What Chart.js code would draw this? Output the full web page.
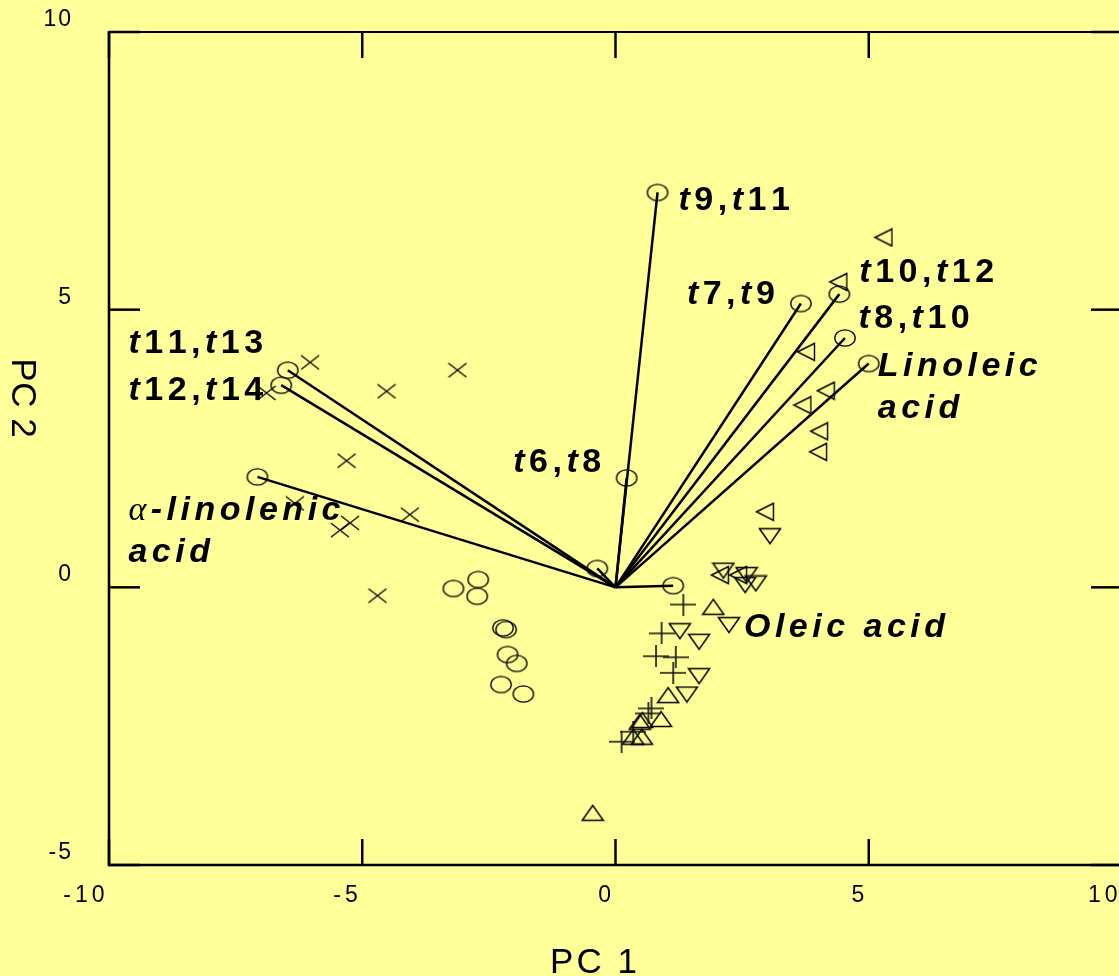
<!DOCTYPE html>
<html>
<head>
<meta charset="utf-8">
<script src="https://cdn.jsdelivr.net/npm/chart.js@4.4.1/dist/chart.umd.min.js"></script>
<style>
  html, body { margin: 0; padding: 0; background: #ffff99; overflow: hidden; width: 1119px; height: 976px; }
  #wrap { position: relative; width: 1140px; height: 976px; }
</style>
</head>
<body>
<div id="wrap"><canvas id="biplot"></canvas></div>
<script>
// PCA biplot of fatty acid profiles: loadings as vectors from the origin, scores as marker groups.

const xTicks = [-10, -5, 0, 5, 10];
const yTicks = [-5, 0, 5, 10];
const xTitle = 'PC 1';
const yTitle = 'PC 2';

// Loading vectors (end points)
const vectorNames = ['t9,t11', 't7,t9', 't10,t12', 't8,t10', 'Linoleic\nacid', 't11,t13', 't12,t14', 'α-linolenic\nacid', 't6,t8', 'Oleic acid', ''];
const vectorX = [0.83, 3.66, 4.42, 4.53, 5.00, -6.47, -6.60, -7.07, 0.22, 1.14, -0.36];
const vectorY = [7.11, 5.11, 5.28, 4.49, 4.03, 3.91, 3.64, 1.99, 1.97, 0.03, 0.34];

// Score groups
const circleX = [-3.20, -2.71, -2.73, -2.22, -2.16, -2.13, -1.95, -2.26, -1.82];
const circleY = [-0.02, 0.14, -0.16, -0.73, -0.76, -1.21, -1.37, -1.75, -1.92];

const crossX = [-6.03, -3.12, -4.52, -6.89, -5.31, -4.06, -6.33, -5.24, -5.44, -4.70];
const crossY = [4.05, 3.91, 3.53, 3.50, 2.28, 1.31, 1.51, 1.16, 1.03, -0.15];

const plusX = [1.34, 0.91, 0.80, 1.19, 1.14, 0.71, 0.65, 0.35, 0.12];
const plusY = [-0.31, -0.83, -1.24, -1.26, -1.54, -2.18, -2.27, -2.60, -2.78];

const upX = [1.93, 1.04, 0.90, 0.53, 0.48, 0.52, 0.35, -0.45];
const upY = [-0.35, -1.94, -2.37, -2.39, -2.42, -2.69, -2.69, -4.06];

const downX = [3.05, 2.13, 2.59, 2.56, 2.77, 2.24, 1.27, 1.65, 1.65, 1.41];
const downY = [0.92, 0.30, 0.22, 0.04, 0.07, -0.68, -0.79, -0.98, -1.60, -1.93];

const leftX = [5.29, 4.40, 3.76, 4.15, 3.69, 4.02, 4.00, 2.95, 2.06, 2.42];
const leftY = [6.30, 5.50, 4.24, 3.54, 3.28, 2.81, 2.44, 1.36, 0.22, 0.22];

// ---- marker glyphs ----
function glyph(w, h, draw, lw, color) {
  const c = document.createElement('canvas');
  c.width = w; c.height = h;
  const g = c.getContext('2d');
  g.strokeStyle = color || '#000';
  g.lineWidth = lw;
  g.beginPath();
  draw(g, w, h);
  g.stroke();
  return c;
}
const ellipseGlyph = glyph(24, 20, (g) => g.ellipse(12, 10, 10.2, 8.2, 0, 0, Math.PI * 2), 1.3);
const upGlyph = glyph(24, 18, (g) => { g.moveTo(1.5, 16.5); g.lineTo(12, 1.5); g.lineTo(22.5, 16.5); g.closePath(); }, 1.5);
const downGlyph = glyph(24, 18, (g) => { g.moveTo(1.5, 1.5); g.lineTo(12, 16.5); g.lineTo(22.5, 1.5); g.closePath(); }, 1.5);
const leftGlyph = glyph(20, 20, (g) => { g.moveTo(1.5, 10); g.lineTo(18.5, 1.5); g.lineTo(18.5, 18.5); g.closePath(); }, 1.4);
const crossGlyph = glyph(20, 16, (g) => { g.moveTo(1, 1); g.lineTo(19, 15); g.moveTo(19, 1); g.lineTo(1, 15); }, 1.3);
const plusGlyph = glyph(26, 22, (g) => { g.moveTo(0, 11); g.lineTo(26, 11); g.moveTo(13, 0); g.lineTo(13, 22); }, 1.6, '#111');

const pts = (xs, ys) => xs.map((x, i) => ({ x, y: ys[i] }));

function scoreSet(xs, ys, style) {
  return {
    type: 'scatter',
    data: pts(xs, ys),
    pointStyle: style,
    pointRadius: 5,
    pointHoverRadius: 5,
    showLine: false
  };
}

const vectorSets = vectorX.map((vx, i) => ({
  type: 'line',
  data: [{ x: 0, y: 0 }, { x: vx, y: vectorY[i] }],
  borderColor: '#000',
  borderWidth: 2.5,
  fill: false,
  tension: 0,
  pointStyle: ellipseGlyph,
  pointRadius: [0, 5],
  pointHoverRadius: [0, 5]
}));

// Label placement relative to each vector end (px): [dx, dy of first baseline]
const labelPlacement = [[21, 18], [-114, 0.5], [20, -12], [13.5, -10], [9, 12], [-159.4, -16.7], [-152.7, 15], [-129, 43.3], [-113.4, -6], [70.7, 51.3], null];
const LABEL_SIZE = 34;
const LABEL_SPACING = 4.5;
const LABEL_LINE_GAP = 42;
const SANS = "'Liberation Sans', Arial, sans-serif";

function labelParts(line, isIsomer) {
  const parts = [];
  for (const ch of line) {
    let font;
    if (ch === 'α') font = `italic ${LABEL_SIZE}px 'Liberation Serif', 'DejaVu Serif', serif`;
    else if (isIsomer) font = (ch === 't' ? 'italic ' : '') + `bold ${LABEL_SIZE}px ${SANS}`;
    else font = `italic bold ${LABEL_SIZE}px ${SANS}`;
    parts.push({ ch, font });
  }
  return parts;
}

function spacedWidth(ctx, parts, spacing) {
  let w = 0;
  parts.forEach((p, i) => { ctx.font = p.font; w += ctx.measureText(p.ch).width + (i < parts.length - 1 ? spacing : 0); });
  return w;
}

function drawSpaced(ctx, parts, x, y, spacing) {
  let cx = x;
  for (const p of parts) {
    ctx.font = p.font;
    ctx.fillText(p.ch, cx, y);
    cx += ctx.measureText(p.ch).width + spacing;
  }
}

const plainParts = (s, font) => [...s].map(ch => ({ ch, font }));

const biplotDecor = {
  id: 'biplotDecor',
  afterDatasetsDraw(chart) {
    const { ctx, chartArea: a, scales: { x, y } } = chart;
    ctx.save();
    ctx.strokeStyle = '#000';
    ctx.lineCap = 'butt';
    // frame
    ctx.lineWidth = 2.6;
    ctx.beginPath(); ctx.moveTo(a.left, a.top - 1); ctx.lineTo(a.left, a.bottom + 1.3); ctx.stroke();
    ctx.lineWidth = 2;
    ctx.beginPath(); ctx.moveTo(a.left, a.top); ctx.lineTo(a.right, a.top); ctx.stroke();
    ctx.lineWidth = 2.6;
    ctx.beginPath(); ctx.moveTo(a.left, a.bottom); ctx.lineTo(a.right, a.bottom); ctx.stroke();
    ctx.beginPath(); ctx.moveTo(a.right, a.top); ctx.lineTo(a.right, a.bottom); ctx.stroke();
    // inward tick marks on all four sides
    ctx.lineWidth = 2.5;
    xTicks.forEach(v => {
      const px = x.getPixelForValue(v);
      ctx.beginPath(); ctx.moveTo(px, a.top); ctx.lineTo(px, a.top + 26); ctx.stroke();
      ctx.beginPath(); ctx.moveTo(px, a.bottom); ctx.lineTo(px, a.bottom - 26); ctx.stroke();
    });
    yTicks.forEach(v => {
      const py = y.getPixelForValue(v);
      ctx.beginPath(); ctx.moveTo(a.left, py); ctx.lineTo(a.left + 31, py); ctx.stroke();
      ctx.beginPath(); ctx.moveTo(a.right, py); ctx.lineTo(a.right - 31, py); ctx.stroke();
    });
    ctx.restore();
  },
  afterDraw(chart) {
    const { ctx, chartArea: a, scales: { x, y } } = chart;
    ctx.save();
    ctx.fillStyle = '#000';
    ctx.textAlign = 'left';
    ctx.textBaseline = 'alphabetic';

    // tick labels
    const tickFont = `23px ${SANS}`;
    xTicks.forEach(v => {
      const parts = plainParts(String(v), tickFont);
      const w = spacedWidth(ctx, parts, 4);
      drawSpaced(ctx, parts, x.getPixelForValue(v) - 4.5 - w, a.bottom + 37, 4);
    });
    yTicks.forEach(v => {
      const parts = plainParts(String(v), tickFont);
      const w = spacedWidth(ctx, parts, 2);
      drawSpaced(ctx, parts, 71 - w, y.getPixelForValue(v) - 6, 2);
    });

    // axis titles
    const titleFont = `35px ${SANS}`;
    const t1 = plainParts(xTitle, titleFont);
    const w1 = spacedWidth(ctx, t1, 3);
    drawSpaced(ctx, t1, 593.5 - w1 / 2, 973, 3);
    const t2 = plainParts(yTitle, titleFont);
    const w2 = spacedWidth(ctx, t2, 0.5);
    ctx.save();
    ctx.translate(12, 398 - w2 / 2);
    ctx.rotate(Math.PI / 2);
    drawSpaced(ctx, t2, 0, 0, 0.5);
    ctx.restore();

    // vector labels
    vectorNames.forEach((name, i) => {
      const place = labelPlacement[i];
      if (!name || !place) return;
      const ex = x.getPixelForValue(vectorX[i]);
      const ey = y.getPixelForValue(vectorY[i]);
      const isomer = /^t\d/.test(name);
      name.split('\n').forEach((line, k) => {
        drawSpaced(ctx, labelParts(line, isomer), ex + place[0], ey + place[1] + k * LABEL_LINE_GAP, LABEL_SPACING);
      });
    });
    ctx.restore();
  }
};

new Chart(document.getElementById('biplot'), {
  type: 'scatter',
  data: {
    datasets: [
      ...vectorSets,
      scoreSet(circleX, circleY, ellipseGlyph),
      scoreSet(crossX, crossY, crossGlyph),
      scoreSet(plusX, plusY, plusGlyph),
      scoreSet(upX, upY, upGlyph),
      scoreSet(downX, downY, downGlyph),
      scoreSet(leftX, leftY, leftGlyph)
    ]
  },
  options: {
    responsive: true,
    maintainAspectRatio: false,
    animation: false,
    events: [],
    layout: { padding: { top: 32, right: 18, left: 0, bottom: 0 } },
    plugins: { legend: { display: false }, tooltip: { enabled: false } },
    scales: {
      x: {
        type: 'linear', min: -10, max: 10,
        ticks: { display: false, stepSize: 5 },
        grid: { display: false }, border: { display: false },
        afterFit(s) { s.height = 111; }
      },
      y: {
        type: 'linear', min: -5, max: 10,
        ticks: { display: false, stepSize: 5 },
        grid: { display: false }, border: { display: false },
        afterFit(s) { s.width = 109; }
      }
    }
  },
  plugins: [biplotDecor]
});
</script>
</body>
</html>
